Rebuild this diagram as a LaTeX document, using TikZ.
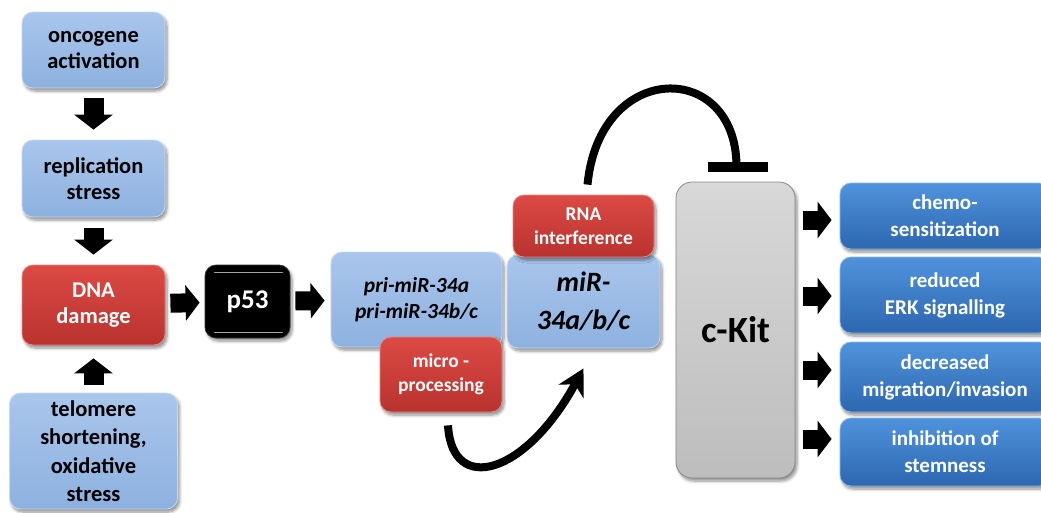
\documentclass[tikz,border=0pt]{standalone}
\usepackage{fontspec}
\setmainfont{Carlito}
\usetikzlibrary{arrows.meta,shadows,shadows.blur,calc}
\definecolor{lbT}{HTML}{A9C6EC}
\definecolor{lbB}{HTML}{8DB1DF}
\definecolor{lbD}{HTML}{C8DAF2}
\definecolor{rdT}{HTML}{DC4A45}
\definecolor{rdB}{HTML}{B9322E}
\definecolor{rdD}{HTML}{E88A86}
\definecolor{dbT}{HTML}{4F93DC}
\definecolor{dbB}{HTML}{2C67B0}
\definecolor{dbD}{HTML}{8DB8E8}
\definecolor{gyT}{HTML}{D8D8D8}
\definecolor{gyB}{HTML}{BDBDBD}
\definecolor{gyD}{HTML}{8A8A8A}
\begin{document}
\begin{tikzpicture}[x=1pt,y=-1pt,
  box/.style={rounded corners=11pt, align=center, inner sep=0pt, line width=0.8pt,
    blur shadow={shadow xshift=2pt, shadow yshift=-3pt, shadow opacity=45, shadow blur radius=3pt, shadow blur steps=6}},
  lbbox/.style={box, top color=lbT, bottom color=lbB, draw=lbD, text=black},
  rdbox/.style={box, top color=rdT, bottom color=rdB, draw=rdD, text=white},
  dbbox/.style={box, top color=dbT, bottom color=dbB, draw=dbD, text=white},
  gybox/.style={box, top color=gyT, bottom color=gyB, draw=gyD, text=black, rounded corners=16pt},
  bkbox/.style={box, fill=black, draw=black!80, text=white},
  ftA/.style={font=\fontsize{22.5}{26.5}\selectfont\bfseries},
  ftR/.style={font=\fontsize{21}{27}\selectfont\bfseries},
  ftS/.style={font=\fontsize{19.5}{24}\selectfont\bfseries},
  blk/.style={line width=20pt, -{Triangle[length=15pt,width=38pt]}},
  curv/.style={line width=8pt},
]
\useasboundingbox (0,0) rectangle (1041,512);
\clip (0,0) rectangle (1041,512);

% left column
\node[lbbox, ftA, minimum width=143pt, minimum height=76pt] (onc) at (93.5,50) {oncogene\\activation};
\node[lbbox, ftA, minimum width=143pt, minimum height=77pt] (rep) at (93.5,178.5) {replication\\stress};
\node[rdbox, ftA, minimum width=143pt, minimum height=80pt] (dna) at (93.5,305) {DNA\\damage};
\node[lbbox, font=\fontsize{22.5}{28.5}\selectfont\bfseries, minimum width=168pt, minimum height=116pt] (tel) at (93.5,451) {telomere\\shortening,\\oxidative\\stress};

% p53
\node[bkbox, font=\fontsize{27}{30}\selectfont\bfseries, minimum width=85pt, minimum height=73pt] (p53) at (247.5,301.5) {p53};
\draw[gray!70, line width=1.2pt, line cap=round] ([xshift=10pt,yshift=-8pt]p53.north west) -- ([xshift=-8pt,yshift=-8pt]p53.north east);
\draw[gray!70, line width=1.2pt, line cap=round] ([xshift=10pt,yshift=6pt]p53.south west) -- ([xshift=-8pt,yshift=6pt]p53.south east);

% miRNA processing
\node[lbbox, font=\fontsize{21.5}{27}\selectfont\bfseries\itshape, minimum width=171pt, minimum height=95pt] (pri) at (416.5,299.5) {pri-miR-34a\\[-1pt]pri-miR-34b/c};
\node[rdbox, ftS, minimum width=122pt, minimum height=75pt] (mp) at (441,374.5) {micro -\\processing};
\node[lbbox, font=\fontsize{28}{38}\selectfont\bfseries\itshape, minimum width=153pt, minimum height=93pt] (mir) at (583.5,301.5) {miR-\\34a/b/c};
\node[rdbox, ftS, minimum width=141pt, minimum height=62pt] (rna) at (583.5,226) {RNA\\interference};

% c-Kit
\node[gybox, font=\fontsize{37}{40}\selectfont\bfseries, minimum width=119pt, minimum height=296pt] (kit) at (735.5,330) {c-Kit};

% outcomes
\node[dbbox, ftR, minimum width=210pt, minimum height=66pt] (r1) at (945,216) {chemo-\\sensitization};
\node[dbbox, ftR, minimum width=210pt, minimum height=76pt] (r2) at (945,295) {reduced\\ERK signalling};
\node[dbbox, ftR, minimum width=210pt, minimum height=70pt] (r3) at (945,377) {decreased\\migration/invasion};
\node[dbbox, ftR, minimum width=210pt, minimum height=68pt] (r4) at (945,452) {inhibition of\\stemness};

% block arrows
\draw[blk, shorten <=10pt, shorten >=10pt] (onc) -- (rep);
\draw[blk, shorten <=11pt, shorten >=10pt] (rep) -- (dna);
\draw[blk, shorten <=8pt, shorten >=13pt] (tel) -- (dna);
\draw[blk, line width=19pt, -{Triangle[length=14pt,width=35pt]}, shorten <=5pt, shorten >=5pt] (dna) -- (p53);
\draw[blk, line width=19pt, -{Triangle[length=14pt,width=35pt]}, shorten <=5pt, shorten >=6pt] (p53) -- (pri);

\coordinate (a1) at ([yshift=-4pt]r1.west);
\coordinate (a2) at ([yshift=-1pt]r2.west);
\coordinate (a3) at ([yshift=7pt]r3.west);
\coordinate (a4) at ([yshift=13pt]r4.west);
\foreach \a in {a1,a2,a3,a4}{
  \draw[blk, line width=19pt, -{Triangle[length=14pt,width=36pt]}, shorten <=8pt, shorten >=8pt] (\a -| kit.east) -- (\a);
}

% curved arrows
\draw[curv, -{Stealth[length=26pt,width=28pt,inset=8pt]}] ($(mp.south)+(7,13)$) .. controls +(4,70) and +(-58,107) .. ($(mir.south)+(0,20)$);
\draw[curv] ($(rna.north)+(4,-10)$) .. controls +(12,-125) and +(0,-107) .. ($(kit.north)+(1,-15)$);
\draw[line width=10pt] ($(kit.north)+(-28,-15)$) -- ($(kit.north)+(32,-15)$);
\end{tikzpicture}
\end{document}
